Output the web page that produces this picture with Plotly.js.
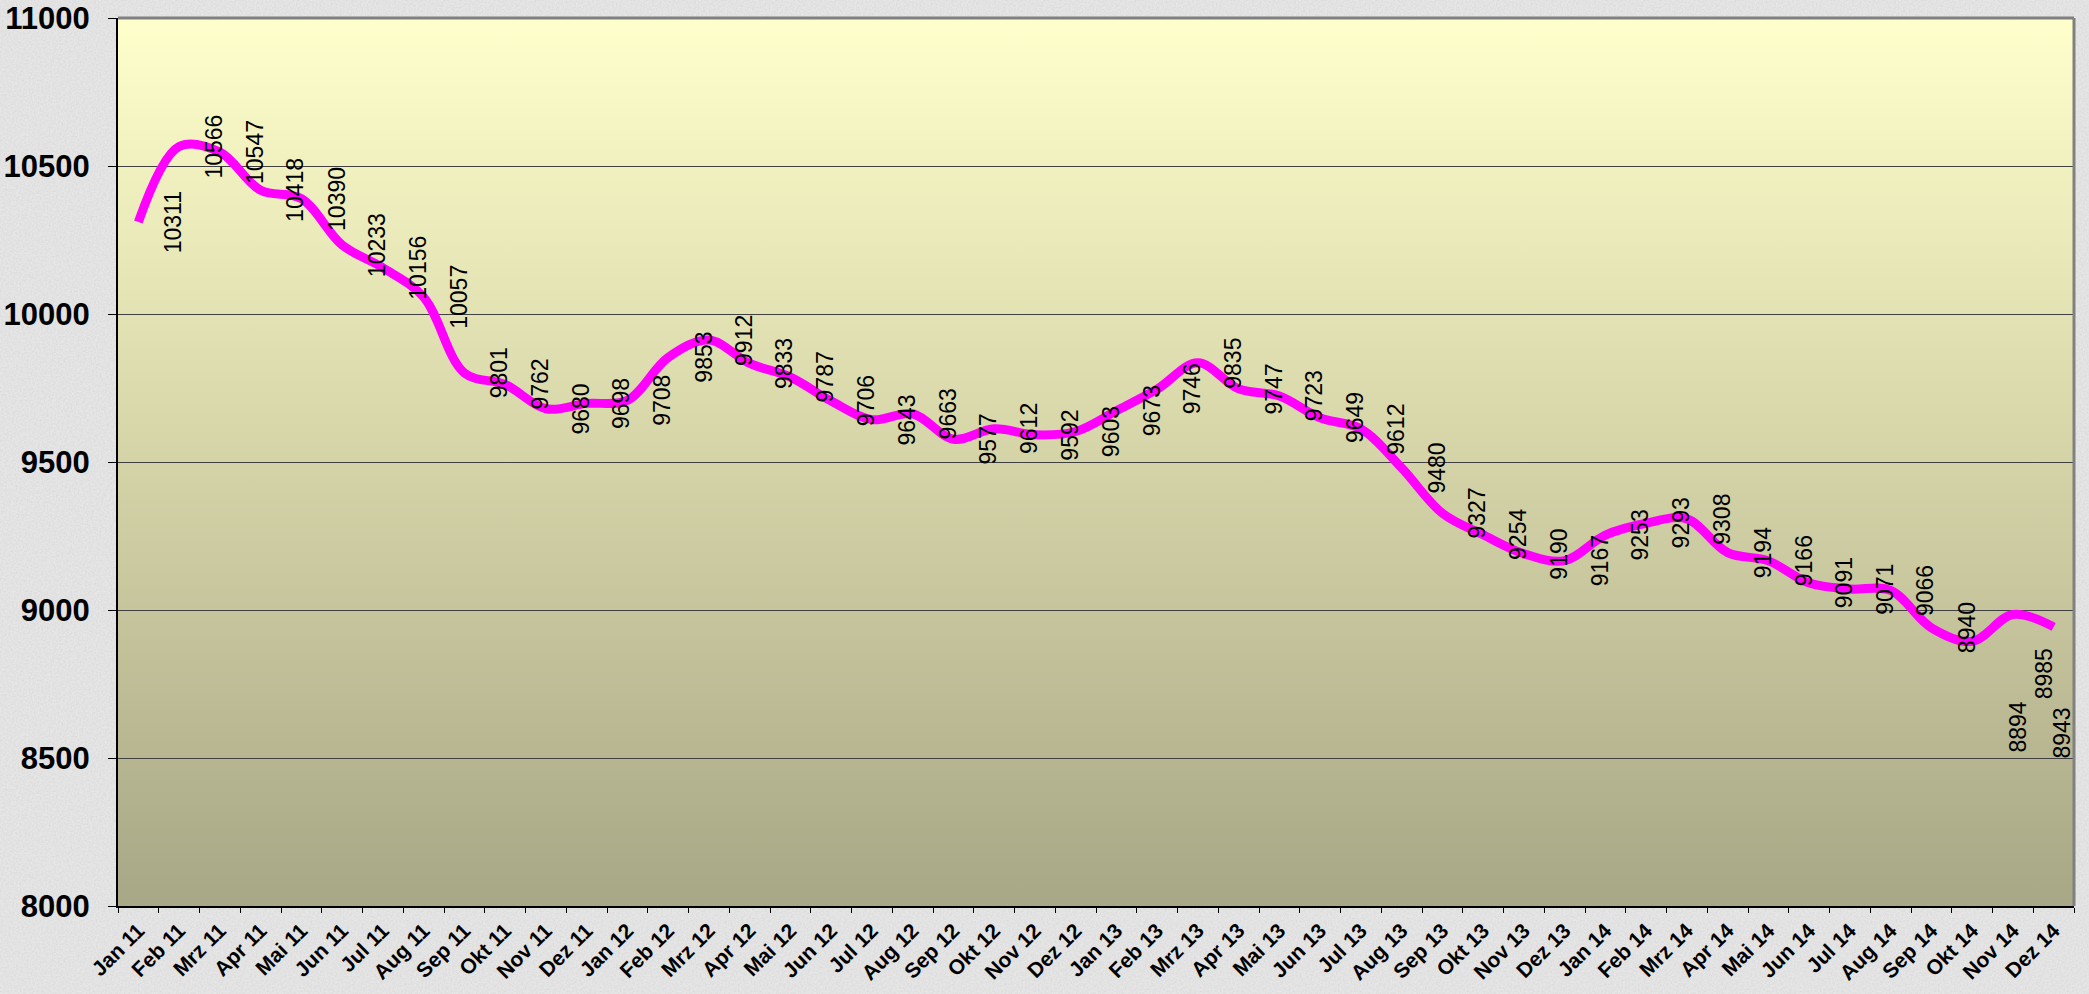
<!DOCTYPE html>
<html>
<head>
<meta charset="utf-8">
<script src="https://cdn.plot.ly/plotly-3.0.1.min.js"></script>
<style>
  html, body { margin: 0; padding: 0; width: 2089px; height: 994px; overflow: hidden; }
  body {
    background-color: #e2e2e2;
    background-image: url("data:image/svg+xml;utf8,<svg xmlns='http://www.w3.org/2000/svg' width='300' height='300'><filter id='n'><feTurbulence type='fractalNoise' baseFrequency='0.55' numOctaves='3' seed='4'/><feColorMatrix type='matrix' values='0 0 0 0 0.55  0 0 0 0 0.55  0 0 0 0 0.55  0 0 0 1.1 -0.35'/></filter><rect width='300' height='300' fill='%23e6e6e6'/><rect width='300' height='300' filter='url(%23n)' opacity='0.55'/></svg>");
  }
  #chart { width: 2089px; height: 994px; }
</style>
</head>
<body>
<div id="chart"></div>
<script>
// ---- data ----
const months = ["Jan", "Feb", "Mrz", "Apr", "Mai", "Jun", "Jul", "Aug", "Sep", "Okt", "Nov", "Dez"];
const years = ["11", "12", "13", "14"];
const values = [
  10311, 10566, 10547, 10418, 10390, 10233, 10156, 10057, 9801, 9762, 9680, 9698,
  9708, 9853, 9912, 9833, 9787, 9706, 9643, 9663, 9577, 9612, 9592, 9603,
  9673, 9746, 9835, 9747, 9723, 9649, 9612, 9480, 9327, 9254, 9190, 9167,
  9253, 9293, 9308, 9194, 9166, 9091, 9071, 9066, 8940, 8894, 8985, 8943
];
const yTicks = [8000, 8500, 9000, 9500, 10000, 10500, 11000];

// category labels built from month + year arrays
const categories = [];
years.forEach(function (yy) { months.forEach(function (m) { categories.push(m + " " + yy); }); });

// label placement nudges (pixels) for the crowded labels at the right end
const labelNudge = { 45: [46, -86], 46: [32, -59], 47: [8, -106] };

const annotations = values.map(function (v, i) {
  const n = labelNudge[i] || [35, 0];
  return {
    x: categories[i], y: v, xref: "x", yref: "y",
    text: String(v), showarrow: false, textangle: -90,
    xanchor: "center", yanchor: "middle",
    xshift: n[0], yshift: n[1],
    font: { family: "Liberation Sans, Arial, sans-serif", size: 23, color: "#000000" }
  };
});

const gradSvg = "<svg xmlns='http://www.w3.org/2000/svg' width='100' height='100' preserveAspectRatio='none'>" +
  "<defs><linearGradient id='g' x1='0' y1='0' x2='0' y2='1'>" +
  "<stop offset='0' stop-color='#ffffcc'/><stop offset='0.45' stop-color='#d9d8ab'/><stop offset='1' stop-color='#a8a786'/>" +
  "</linearGradient></defs><rect width='100' height='100' fill='url(#g)'/></svg>";
const gradSrc = "data:image/svg+xml;base64," + btoa(gradSvg);

const trace = {
  type: "scatter", mode: "lines",
  x: categories, y: values,
  line: { color: "#ff00ff", width: 9, shape: "spline", smoothing: 1.0 },
  hoverinfo: "x+y"
};

const layout = {
  width: 2089, height: 994,
  margin: { l: 118, r: 15, t: 18, b: 88 },
  paper_bgcolor: "rgba(0,0,0,0)",
  plot_bgcolor: "rgba(0,0,0,0)",
  showlegend: false,
  font: { family: "Liberation Sans, Arial, sans-serif", color: "#000000" },
  xaxis: {
    type: "category",
    tickangle: -45,
    tickson: "boundaries",
    ticks: "outside", ticklen: 5, tickwidth: 1, tickcolor: "#000000",
    ticklabelstandoff: 2,
    showgrid: false, zeroline: false,
    showline: true, linecolor: "#000000", linewidth: 2,
    tickfont: { family: "Liberation Sans, Arial, sans-serif", size: 21, color: "#000000", weight: "bold" },
    range: [-0.5, values.length - 0.5],
    automargin: false
  },
  yaxis: {
    range: [8000, 11000],
    tickvals: yTicks,
    ticktext: yTicks.map(String),
    ticks: "outside", ticklen: 8, tickwidth: 1, tickcolor: "#000000",
    ticklabelstandoff: 12,
    showgrid: true, gridcolor: "#404040", gridwidth: 1,
    zeroline: false,
    showline: true, linecolor: "#000000", linewidth: 2,
    tickfont: { family: "Liberation Sans, Arial, sans-serif", size: 31, color: "#000000", weight: "bold" },
    automargin: false
  },
  images: [{
    source: gradSrc, xref: "paper", yref: "paper",
    x: 0, y: 1, sizex: 1, sizey: 1, sizing: "stretch",
    xanchor: "left", yanchor: "top", layer: "below"
  }],
  shapes: [
    { type: "line", xref: "paper", yref: "paper", x0: 0, x1: 1, y0: 1, y1: 1,
      line: { color: "#808080", width: 3 } },
    { type: "line", xref: "paper", yref: "paper", x0: 1, x1: 1, y0: 0, y1: 1,
      line: { color: "#808080", width: 3 } }
  ],
  annotations: annotations
};

Plotly.newPlot("chart", [trace], layout, { displayModeBar: false, staticPlot: true });
</script>
</body>
</html>
